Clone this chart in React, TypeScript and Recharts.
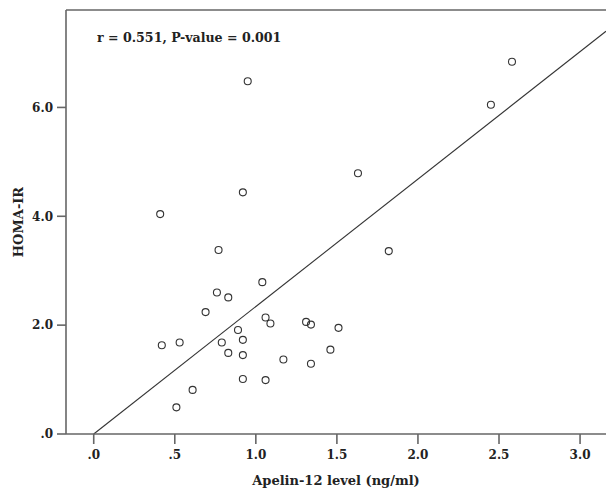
import React from "react";
import { ScatterChart, Scatter, XAxis, YAxis, ReferenceLine } from "recharts";

// Apelin-12 (ng/ml) vs HOMA-IR
const apelin = [
  1.04, 0.76, 0.83, 0.69, 1.06, 1.09, 1.31, 1.34, 1.51, 0.89, 0.92,
  0.79, 0.42, 0.53, 0.83, 0.92, 1.46, 1.17, 1.34, 0.92, 1.06, 0.61,
  0.51, 0.95, 1.63, 0.92, 0.41, 0.77, 2.58, 2.45, 1.82,
];
const homaIr = [
  2.79, 2.6, 2.51, 2.24, 2.14, 2.03, 2.06, 2.01, 1.95, 1.91, 1.73,
  1.68, 1.63, 1.68, 1.49, 1.45, 1.55, 1.37, 1.29, 1.01, 0.99, 0.81,
  0.49, 6.48, 4.79, 4.44, 4.04, 3.38, 6.84, 6.05, 3.36,
];

// fitted line end points
const fitX = [0, 3.16];
const fitY = [0, 7.4];

const xTicks = [0, 0.5, 1, 1.5, 2, 2.5, 3];
const xTickLabels = [".0", ".5", "1.0", "1.5", "2.0", "2.5", "3.0"];
const yTicks = [0, 2, 4, 6];
const yTickLabels = [".0", "2.0", "4.0", "6.0"];

const X_DOMAIN: [number, number] = [-0.171, 3.16];
const Y_DOMAIN: [number, number] = [0, 7.79];

const FONT = "'DejaVu Serif', serif";
const AXIS = "#666";

const points = apelin.map((x, i) => ({ x, y: homaIr[i] }));

const OpenCircle = (props: any) => (
  <circle cx={props.cx} cy={props.cy} r={3.5} fill="none" stroke="#333" strokeWidth={1.1} />
);

export default function App() {
  const tickStyle = { fontFamily: FONT, fontSize: 12, fontWeight: "bold", fill: "#222" };
  return (
    <div style={{ position: "absolute", left: 0, top: 0, width: 606, height: 492, background: "#fff" }}>
      <ScatterChart width={606} height={492} margin={{ top: 10, right: 0, bottom: 0, left: 0 }}>
        <XAxis
          type="number"
          dataKey="x"
          domain={X_DOMAIN}
          ticks={xTicks}
          tickFormatter={(v: number) => xTickLabels[xTicks.indexOf(v)]}
          allowDataOverflow
          height={58}
          tickSize={10}
          tickMargin={6}
          stroke={AXIS}
          strokeWidth={1.6}
          tick={tickStyle}
          label={{
            value: "Apelin-12 level (ng/ml)",
            position: "insideBottom",
            offset: 7,
            style: { fontFamily: FONT, fontSize: 13, fontWeight: "bold", fill: "#222" },
          }}
        />
        <YAxis
          type="number"
          dataKey="y"
          domain={Y_DOMAIN}
          ticks={yTicks}
          tickFormatter={(v: number) => yTickLabels[yTicks.indexOf(v)]}
          allowDataOverflow
          width={66}
          tickSize={9}
          tickMargin={4}
          stroke={AXIS}
          strokeWidth={1.6}
          tick={tickStyle}
          label={{
            value: "HOMA-IR",
            angle: -90,
            position: "insideLeft",
            offset: 18,
            style: { textAnchor: "middle", fontFamily: FONT, fontSize: 13, fontWeight: "bold", fill: "#222" },
          }}
        />
        <ReferenceLine y={Y_DOMAIN[1]} stroke={AXIS} strokeWidth={1.6} />
        <ReferenceLine
          segment={[
            { x: fitX[0], y: fitY[0] },
            { x: fitX[1], y: fitY[1] },
          ]}
          stroke="#333"
          strokeWidth={1.1}
        />
        <Scatter data={points} shape={OpenCircle} isAnimationActive={false} />
      </ScatterChart>
      <div
        style={{
          position: "absolute",
          left: 97,
          top: 30,
          fontFamily: FONT,
          fontSize: 12.6,
          fontWeight: "bold",
          color: "#222",
          whiteSpace: "nowrap",
        }}
      >
        r = 0.551, P-value = 0.001
      </div>
    </div>
  );
}
